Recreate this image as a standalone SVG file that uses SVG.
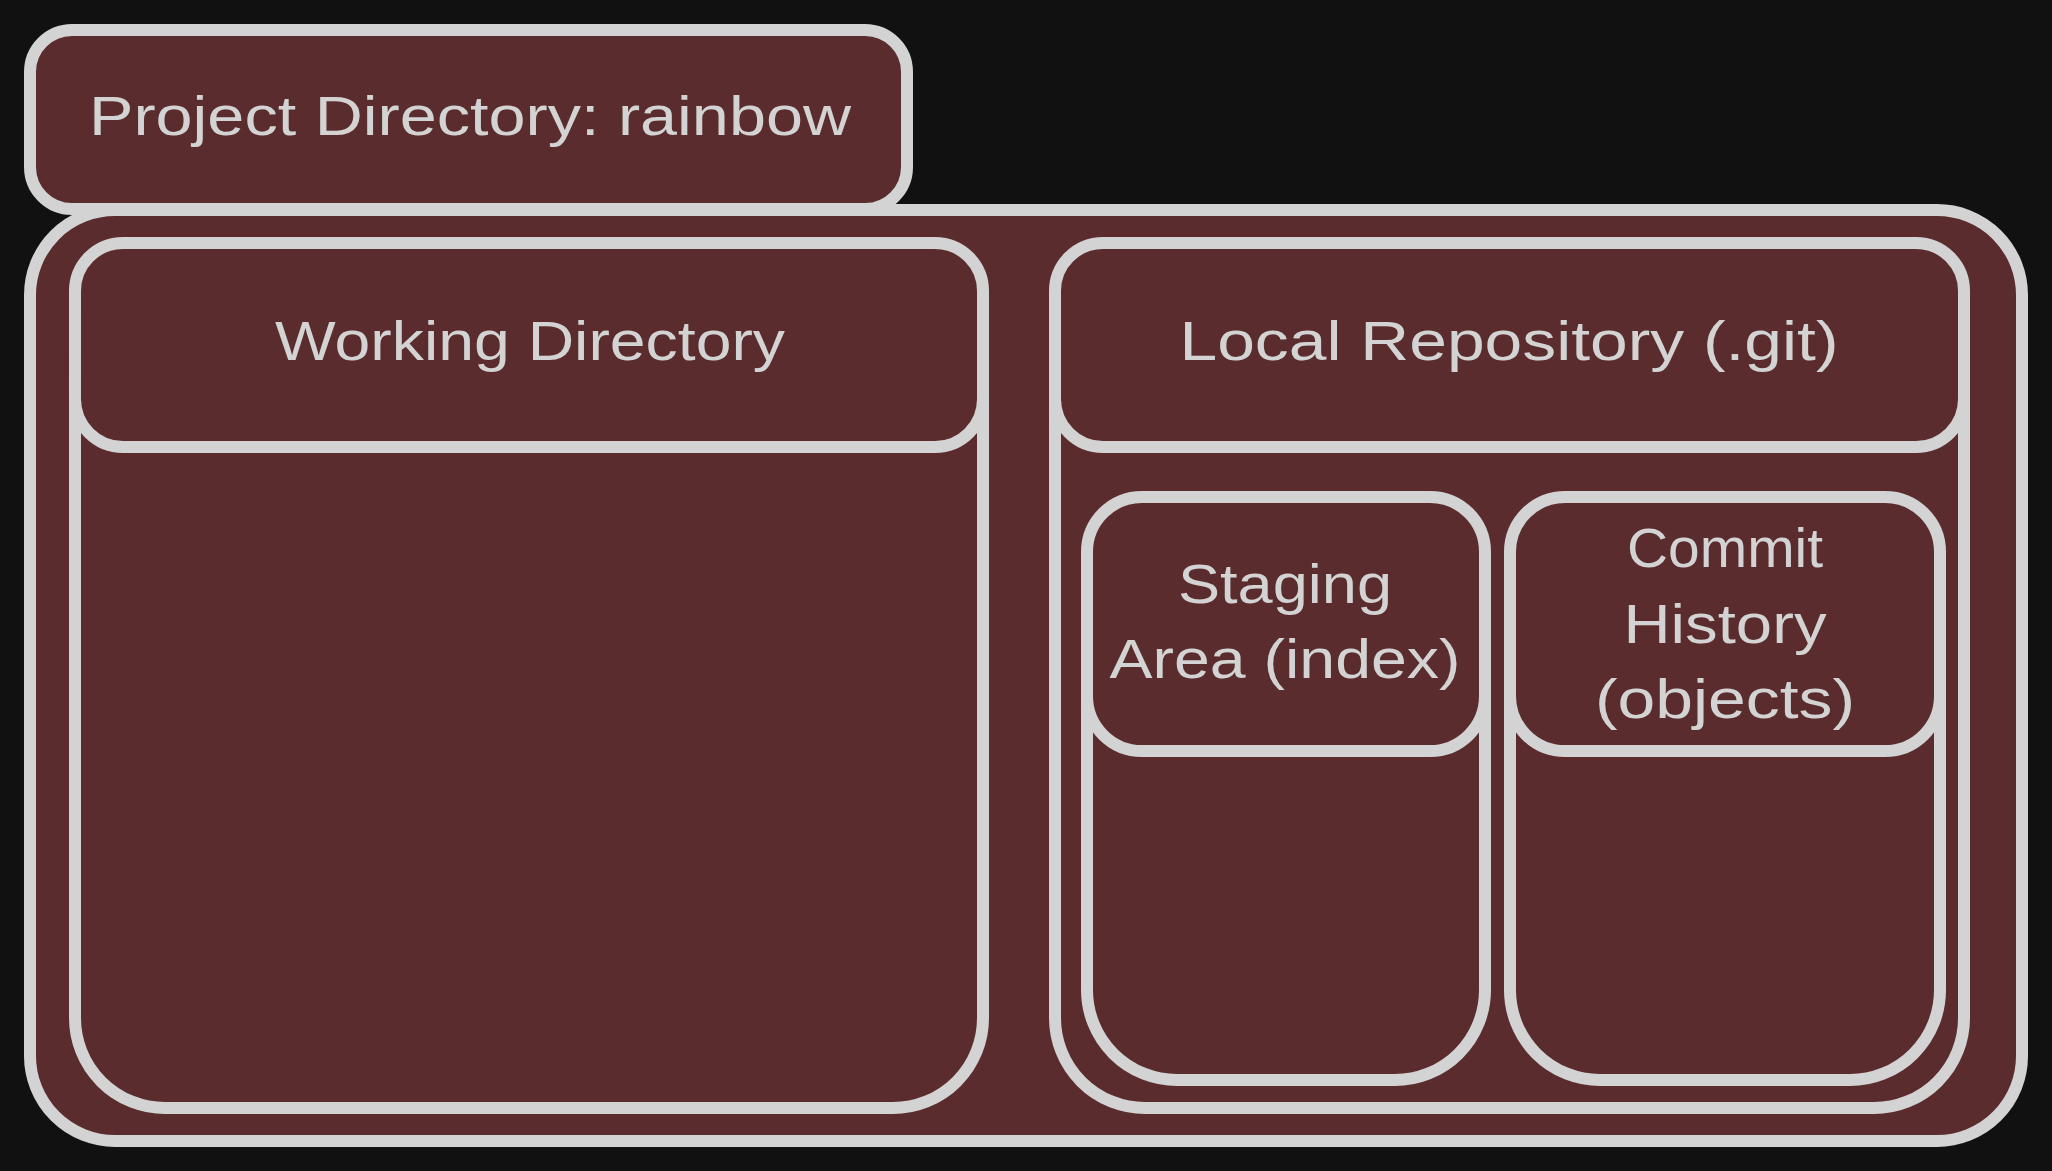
<svg xmlns="http://www.w3.org/2000/svg" width="2052" height="1171" viewBox="0 0 2052 1171">
<style>
.box{fill:#5b2c2d;stroke:#d3d3d3;stroke-width:12}
.lbl{fill:#d3d3d3;font-family:"Liberation Sans",Arial,sans-serif;font-size:56px;text-anchor:middle}
</style>
<rect x="0" y="0" width="2052" height="1171" fill="#111111"/>
<g id="project-container">
<rect class="box" x="30" y="210" width="1992" height="931" rx="85" ry="85"/>
</g>
<g id="project-title">
<rect class="box" x="30" y="30" width="877" height="179" rx="42" ry="42"/>
<text class="lbl" x="470" y="135" textLength="762" lengthAdjust="spacingAndGlyphs">Project Directory: rainbow</text>
</g>
<g id="working-directory">
<rect class="box" x="75" y="243" width="908" height="865" rx="90" ry="90"/>
<rect class="box" x="75" y="243" width="908" height="204" rx="48" ry="48"/>
<text class="lbl" x="530" y="360" textLength="510" lengthAdjust="spacingAndGlyphs">Working Directory</text>
</g>
<g id="local-repository">
<rect class="box" x="1055" y="243" width="909" height="865" rx="90" ry="90"/>
<rect class="box" x="1055" y="243" width="909" height="204" rx="48" ry="48"/>
<text class="lbl" x="1509" y="360" textLength="659" lengthAdjust="spacingAndGlyphs">Local Repository (.git)</text>
</g>
<g id="staging-area">
<rect class="box" x="1087" y="497" width="398" height="583" rx="90" ry="90"/>
<rect class="box" x="1087" y="497" width="398" height="254" rx="55" ry="55"/>
<text class="lbl" x="1285" y="603" textLength="214" lengthAdjust="spacingAndGlyphs">Staging</text>
<text class="lbl" x="1285" y="678" textLength="351" lengthAdjust="spacingAndGlyphs">Area (index)</text>
</g>
<g id="commit-history">
<rect class="box" x="1510" y="497" width="430" height="583" rx="90" ry="90"/>
<rect class="box" x="1510" y="497" width="430" height="254" rx="55" ry="55"/>
<text class="lbl" x="1725" y="567" textLength="196" lengthAdjust="spacingAndGlyphs">Commit</text>
<text class="lbl" x="1725" y="643" textLength="203" lengthAdjust="spacingAndGlyphs">History</text>
<text class="lbl" x="1725" y="718" textLength="260" lengthAdjust="spacingAndGlyphs">(objects)</text>
</g>
<g id="connectors"/>
</svg>
